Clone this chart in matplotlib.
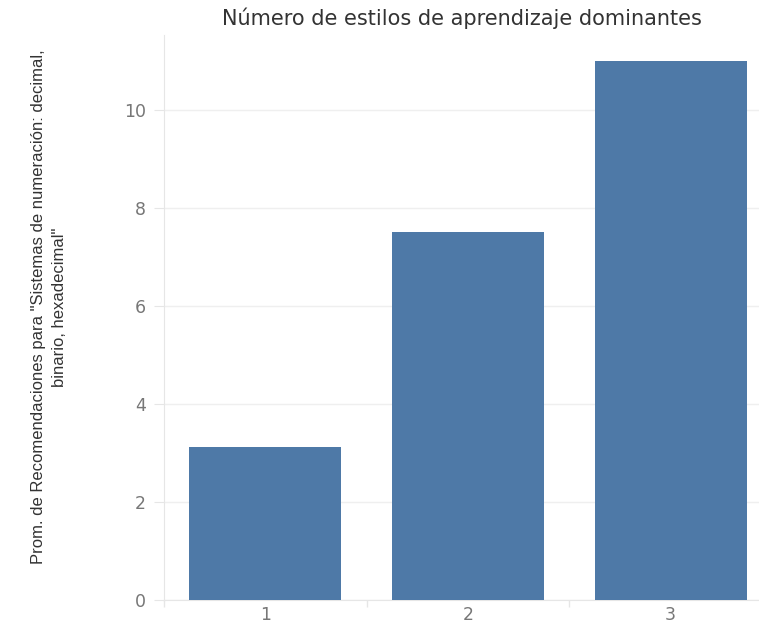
import matplotlib
matplotlib.use("Agg")
import matplotlib.pyplot as plt

categories = ["1", "2", "3"]
values = [3.12, 7.5, 11.0]
yticks = [0, 2, 4, 6, 8, 10]

fig = plt.figure(figsize=(7.59, 6.24), dpi=100)
W, H = 759, 624
ax = fig.add_axes([164 / W, (H - 600) / H, 608 / W, 565 / H])

xs = list(range(1, len(categories) + 1))
ax.bar(xs, values, width=0.75, color="#4e79a7", zorder=3)
ax.set_xlim(0.5, 3.5)
ax.set_ylim(0, 11.53)

ax.set_yticks(yticks)
ax.set_yticklabels([str(t) for t in yticks])
ax.set_xticks(xs)
ax.set_xticklabels(categories)
ax.set_xticks([0.5, 1.5, 2.5, 3.5], minor=True)
ax.tick_params(axis="x", which="major", length=0, pad=4.5, labelsize=12.5, labelcolor="#777777")
ax.tick_params(axis="x", which="minor", length=5, color="#e6e6e6", width=1)
ax.tick_params(axis="y", which="major", length=7, color="#e6e6e6", pad=6, labelsize=12.5, labelcolor="#777777")
for lab in ax.get_yticklabels() + ax.get_xticklabels():
    lab.set_family("DejaVu Sans")

ax.grid(axis="y", color="#efefef", linewidth=1, zorder=0)
for s in ["top", "right"]:
    ax.spines[s].set_visible(False)
ax.spines["left"].set_color("#e6e6e6")
ax.spines["bottom"].set_color("#e6e6e6")

fig.text(462 / W, 1 - 18 / H, "Número de estilos de aprendizaje dominantes",
         ha="center", va="center", fontsize=15, color="#333333",
         family=["DejaVu Sans"])

fig.text(49 / W, 1 - 307 / H,
         "Prom. de Recomendaciones para \"Sistemas de numeración: decimal,\nbinario, hexadecimal\"",
         ha="center", va="center", rotation=90, fontsize=12, color="#333333",
         family=["Liberation Sans", "DejaVu Sans"], linespacing=1.45)

fig.savefig("out.png", dpi=100)
